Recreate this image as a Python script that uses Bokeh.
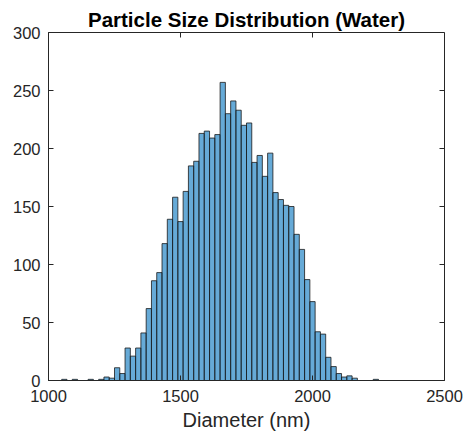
import math
from bokeh.plotting import figure
from bokeh.models import Range1d, FixedTicker, ColumnDataSource
from bokeh.embed import file_html
from bokeh.resources import INLINE

# histogram bins (nm) and counts
bin_left = [1050, 1070, 1090, 1110, 1130, 1150, 1170, 1190, 1210, 1230,
            1250, 1270, 1290, 1310, 1330, 1350, 1370, 1390, 1410, 1430,
            1450, 1470, 1490, 1510, 1530, 1550, 1570, 1590, 1610, 1630,
            1650, 1670, 1690, 1710, 1730, 1750, 1770, 1790, 1810, 1830,
            1850, 1870, 1890, 1910, 1930, 1950, 1970, 1990, 2010, 2030,
            2050, 2070, 2090, 2110, 2130, 2150, 2170, 2190, 2210, 2230]
bin_width = 20
counts = [1, 0, 1, 0, 0, 1, 0, 1, 3, 2,
          11, 6, 28, 21, 28, 41, 62, 86, 93, 118,
          139, 158, 137, 163, 185, 189, 213, 215, 209, 212,
          257, 230, 241, 233, 220, 222, 188, 194, 176, 196,
          162, 156, 151, 150, 126, 113, 87, 68, 42, 40,
          20, 12, 6, 3, 4, 2, 0, 0, 0, 1]

x_ticks = [1000, 1500, 2000, 2500]
y_ticks = [0, 50, 100, 150, 200, 250, 300]

title_text = "Particle Size Distribution (Water)"
x_label = "Diameter (nm)"

FONT = "Liberation Sans"
DARK = "#262626"

src = ColumnDataSource(dict(
    left=bin_left,
    right=[b + bin_width for b in bin_left],
    top=counts,
    bottom=[0] * len(counts),
))

X0, X1 = 1000, 2500
Y0, Y1 = 0, 300

p = figure(width=466, height=434, x_range=Range1d(X0, X1), y_range=Range1d(Y0, Y1),
           output_backend="svg", toolbar_location=None,
           min_border_left=48, min_border_right=22, min_border_top=32, min_border_bottom=54,
           title=title_text)
p.background_fill_color = "white"
p.border_fill_color = "white"
p.outline_line_color = DARK
p.outline_line_width = 1
p.xgrid.visible = False
p.ygrid.visible = False

p.title.align = "center"
p.title.text_font = FONT
p.title.text_font_size = "20.5px"
p.title.text_font_style = "bold"
p.title.text_color = "black"
p.title.offset = 0
p.title.standoff = 4

p.quad(left="left", right="right", top="top", bottom="bottom", source=src,
       fill_color="#0072BD", fill_alpha=0.6, line_color="#1a1a1a", line_width=0.8)

for ax in (p.xaxis[0], p.yaxis[0]):
    ax.axis_line_color = DARK
    ax.major_tick_line_color = DARK
    ax.major_tick_in = 5
    ax.major_tick_out = 0
    ax.minor_tick_in = 0
    ax.minor_tick_out = 0
    ax.major_label_text_font = FONT
    ax.major_label_text_font_size = "16.5px"
    ax.major_label_text_color = DARK
    ax.axis_label_text_font = FONT
    ax.axis_label_text_font_size = "20px"
    ax.axis_label_text_font_style = "normal"
    ax.axis_label_text_color = DARK

p.xaxis[0].ticker = FixedTicker(ticks=x_ticks)
p.yaxis[0].ticker = FixedTicker(ticks=y_ticks)
p.xaxis[0].major_label_standoff = 9
p.yaxis[0].major_label_standoff = 8
p.xaxis[0].axis_label = x_label
p.xaxis[0].axis_label_standoff = 4

# mirrored inward ticks on top and right (box on)
p.ray(x=x_ticks, y=[Y1] * len(x_ticks), length=5, length_units="screen",
      angle=-math.pi / 2, line_color=DARK, line_width=1)
p.ray(x=[X1] * len(y_ticks), y=y_ticks, length=5, length_units="screen",
      angle=math.pi, line_color=DARK, line_width=1)

open("out.html", "w").write(file_html(p, INLINE))
